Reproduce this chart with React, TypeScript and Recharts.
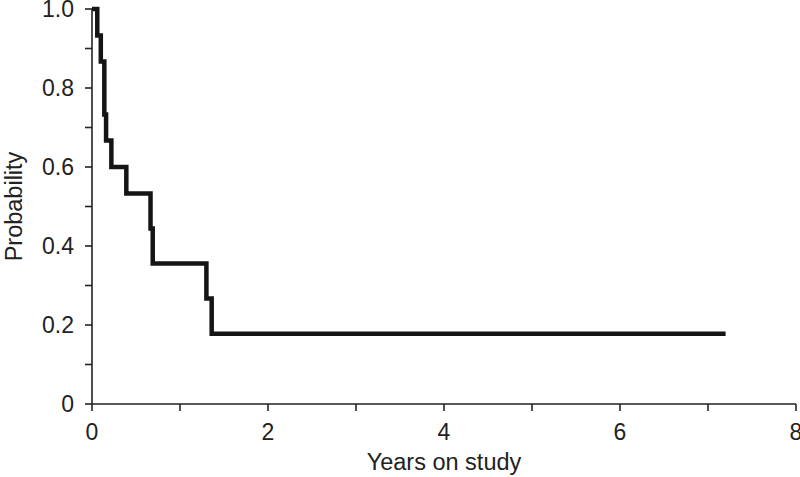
import React from "react";
import { Label, Line, LineChart, XAxis, YAxis } from "recharts";

// Kaplan-Meier estimate
const years = [0, 0.06, 0.1, 0.14, 0.16, 0.22, 0.39, 0.665, 0.69, 1.3, 1.36, 7.2];
const survival = [1.0, 0.933, 0.867, 0.733, 0.667, 0.6, 0.533, 0.444, 0.356, 0.267, 0.178, 0.178];

const xTicks = [0, 1, 2, 3, 4, 5, 6, 7, 8];
const xTickLabels = ["0", "", "2", "", "4", "", "6", "", "8"];
const yTicks = [0, 0.1, 0.2, 0.3, 0.4, 0.5, 0.6, 0.7, 0.8, 0.9, 1.0];
const yTickLabels = ["0", "", "0.2", "", "0.4", "", "0.6", "", "0.8", "", "1.0"];

const data = years.map((t, i) => ({ t, s: survival[i] }));

const font = '"Liberation Sans", Arial, sans-serif';
const axisColor = "#222";

const YTitle = (props: any) => {
	const { viewBox } = props;
	const cx = viewBox.x + 22;
	const cy = viewBox.y + viewBox.height / 2;
	return (
		<text
			x={cx}
			y={cy}
			transform={`rotate(-90 ${cx} ${cy})`}
			textAnchor="middle"
			fontSize={23.5}
			fontFamily={font}
			fill={axisColor}
		>
			Probability
		</text>
	);
};

export default function App() {
	return (
		<div style={{ position: "absolute", left: 0, top: 0, background: "#fff" }}>
			<LineChart width={800} height={477} data={data} margin={{ top: 9, right: 4, bottom: 0, left: 0 }}>
				<XAxis
					dataKey="t"
					type="number"
					domain={[0, 8]}
					ticks={xTicks}
					tickFormatter={(v: number, i: number) => xTickLabels[i]}
					height={73}
					tickSize={7}
					tickMargin={13}
					stroke={axisColor}
					strokeWidth={1.6}
					tick={{ fontSize: 23, fontFamily: font, fill: axisColor }}
					interval={0}
				>
					<Label
						value="Years on study"
						position="insideBottom"
						offset={7}
						style={{ fontSize: 23.5, fontFamily: font, fill: axisColor }}
					/>
				</XAxis>
				<YAxis
					type="number"
					domain={[0, 1]}
					ticks={yTicks}
					tickFormatter={(v: number, i: number) => yTickLabels[i]}
					width={92}
					tickSize={7}
					tickMargin={11}
					stroke={axisColor}
					strokeWidth={1.6}
					tick={{ fontSize: 23, fontFamily: font, fill: axisColor }}
					interval={0}
					label={{ content: <YTitle /> }}
				/>
				<Line
					type="stepAfter"
					dataKey="s"
					stroke="#151515"
					strokeWidth={4.5}
					dot={false}
					activeDot={false}
					isAnimationActive={false}
				/>
			</LineChart>
		</div>
	);
}
